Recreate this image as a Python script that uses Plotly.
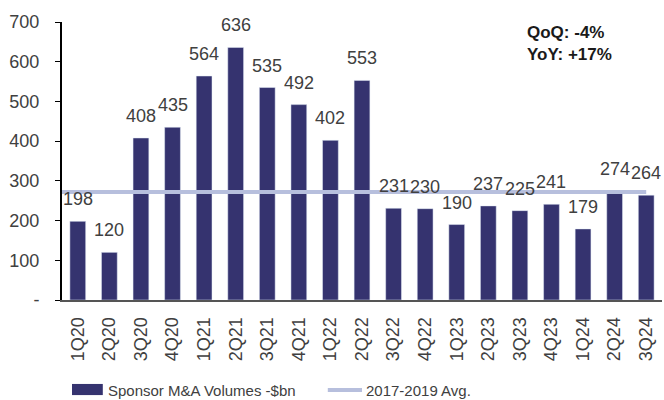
import plotly.graph_objects as go

quarters = ["1Q20","2Q20","3Q20","4Q20","1Q21","2Q21","3Q21","4Q21","1Q22","2Q22",
            "3Q22","4Q22","1Q23","2Q23","3Q23","4Q23","1Q24","2Q24","3Q24"]
volumes = [198,120,408,435,564,636,535,492,402,553,231,230,190,237,225,241,179,274,264]
avg_2017_2019 = 272
y_ticks = [0,100,200,300,400,500,600,700]
y_tick_labels = ["-","100","200","300","400","500","600","700"]

BAR = "#35336f"
LINE = "#b7bfdd"
TXT = "#404040"
FONT = "Liberation Sans Narrow, Arial Narrow, Liberation Sans, Arial"

idx = list(range(len(quarters)))
fig = go.Figure()
fig.add_trace(go.Bar(x=idx, y=volumes, marker_color=BAR, width=0.5,
                     name="Sponsor M&A Volumes -$bn", showlegend=False))
fig.add_trace(go.Scatter(x=[-0.5, len(quarters)-1], y=[avg_2017_2019]*2, mode="lines",
                         line=dict(color=LINE, width=4), name="2017-2019 Avg.",
                         showlegend=False))

for i, v in zip(idx, volumes):
    fig.add_annotation(x=i, y=v, text=str(v), showarrow=False, yanchor="middle",
                       yshift=22, font=dict(size=18, color=TXT, family=FONT))

fig.add_annotation(xref="paper", yref="paper", x=0.772, y=1.005, xanchor="left", yanchor="top",
                   text="<b>QoQ: -4%<br>YoY: +17%</b>", showarrow=False, align="left",
                   font=dict(size=17, color="#1a1a1a", family="Liberation Sans, Arial"))

# manual legend
fig.add_shape(type="rect", xref="paper", yref="paper", x0=0.0167, x1=0.068, y0=-0.342, y1=-0.302,
              fillcolor=BAR, line_width=0)
fig.add_annotation(xref="paper", yref="paper", x=0.073, y=-0.324, xanchor="left", yanchor="middle",
                   text="Sponsor M&A Volumes -$bn", showarrow=False,
                   font=dict(size=15, color=TXT, family=FONT))
fig.add_shape(type="line", xref="paper", yref="paper", x0=0.443, x1=0.5, y0=-0.324, y1=-0.324,
              line=dict(color=LINE, width=4))
fig.add_annotation(xref="paper", yref="paper", x=0.503, y=-0.324, xanchor="left", yanchor="middle",
                   text="2017-2019 Avg.", showarrow=False,
                   font=dict(size=15, color=TXT, family=FONT))

fig.update_layout(
    width=664, height=400, margin=dict(l=62, r=2, t=22, b=100),
    paper_bgcolor="white", plot_bgcolor="white", bargap=0.5,
    font=dict(family=FONT, color=TXT),
)
fig.update_xaxes(range=[-0.5, len(quarters)-0.5], tickmode="array", tickvals=idx, ticktext=quarters,
                 tickangle=-90, tickfont=dict(size=18, color=TXT, family=FONT),
                 showline=True, linecolor="#555555", linewidth=2, ticks="", showgrid=False,
                 zeroline=False, ticklabelstandoff=8)
fig.update_yaxes(range=[0, 700], tickmode="array", tickvals=y_ticks, ticktext=y_tick_labels,
                 tickfont=dict(size=18, color=TXT, family=FONT), showline=True,
                 linecolor="#000000", linewidth=2, ticks="outside", ticklen=5, tickcolor="#000000",
                 showgrid=False, zeroline=False, ticklabelstandoff=12)

fig.write_html("out.html", config={"displayModeBar": False},
               post_script="document.body.style.margin='0';document.body.style.overflow='hidden';")
